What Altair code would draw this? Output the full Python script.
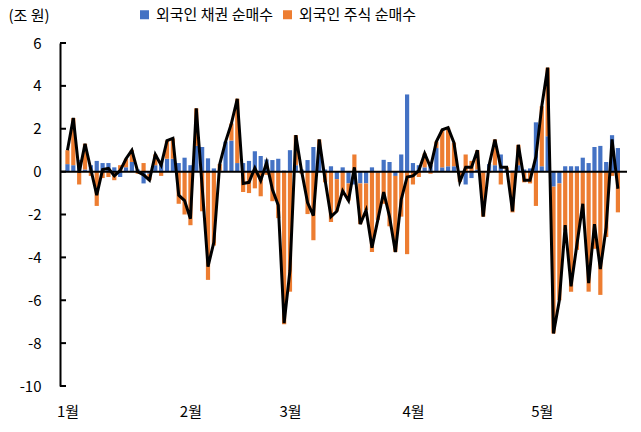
import altair as alt
import pandas as pd

# Daily foreign net purchases (trillion won)
bond = [0.35, 0.3, 0.55, 0.1, 0.3, 0.5, 0.4, 0.4, 0.2, -0.25,
        0.2, 0.45, 0.1, -0.55, -0.1, 0.3, 0.5, 0.6, 0.6, 0.4,
        0.65, 0.3, 1.2, 1.15, 0.62, 0.15, 0.05, 1.4, 1.45, 0.4,
        0.4, 0.5, 0.95, 0.73, 0.57, 0.54, 0.6, 0.05, 1.0, 0.3,
        0.1, 0.54, 1.15, 0.9, 0.1, 0.25, -0.35, 0.2, -0.55, -0.6,
        -0.55, -0.55, 0.2, -0.05, 0.55, 0.45, -0.2, 0.8, 3.6, 0.4,
        0.3, 0.2, 0.3, 1.1, 0.2, 0.25, 0.25, 0.0, -0.6, -0.3,
        0.1, 0.0, 0.35, 0.3, 0.8, 0.1, 0.05, 0.3, 0.1, 0.15,
        2.3, 0.25, 1.65, -0.7, -0.55, 0.25, 0.25, 0.25, 0.65, 0.4,
        1.15, 1.2, 0.45, 1.7, 1.1]
stock = [0.65, 2.2, -0.6, 1.2, -0.2, -1.6, -0.3, -0.25, -0.4, 0.3,
         0.4, 0.55, -0.1, 0.4, -0.3, 0.5, -0.2, 0.85, 0.95, -1.5,
         -2.0, -2.5, 1.75, -1.85, -5.05, -3.45, 0.3, 0.0, 0.8, 3.0,
         -0.95, -1.0, -0.78, -1.15, -0.15, -1.38, -2.17, -7.12, -5.6, 1.4,
         -0.1, -1.98, -3.2, 0.6, -0.5, -2.35, -1.5, -1.1, -0.8, 0.8,
         -1.9, -1.25, -3.75, -2.2, -1.5, -2.55, -3.55, -2.1, -3.85, -0.6,
         -0.25, 0.65, -0.1, 0.3, 1.75, 1.8, 1.1, -0.47, 0.8, 0.5,
         0.9, -2.1, -0.05, 1.2, -0.6, 0.1, -1.9, 0.95, -0.5, -0.55,
         -1.6, 2.8, 3.2, -6.85, -5.45, -2.75, -5.6, -3.65, -2.15, -5.6,
         -3.6, -5.75, -3.05, -0.2, -1.9]

series_names = ["외국인 채권 순매수", "외국인 주식 순매수"]
colors = ["#4472C4", "#ED7D31"]
month_labels = ["1월", "2월", "3월", "4월", "5월"]
month_pos = [0, 21, 38, 59, 81]
y_ticks = [-10, -8, -6, -4, -2, 0, 2, 4, 6]

n = len(bond)
idx = list(range(n))
long_df = pd.DataFrame({
    "idx": idx * 2,
    "value": bond + stock,
    "series": [series_names[0]] * n + [series_names[1]] * n,
    "ord": [0] * n + [1] * n,
})
total_df = pd.DataFrame({"idx": idx, "total": [round(b + s, 3) for b, s in zip(bond, stock)]})
zero_df = pd.DataFrame({"z": [0]})
tick_df = pd.DataFrame({"t": y_ticks})

FONT = "Noto Sans CJK KR"
YTITLE = "(조 원)"
xscale = alt.Scale(domain=[-0.42, 94.7], nice=False, zero=False)
yscale = alt.Scale(domain=[-10, 6], nice=False)

label_expr = ""
for p, l in zip(month_pos, month_labels):
    label_expr += f"datum.value == {p} ? '{l}' : "
label_expr += "''"

bars = alt.Chart(long_df).mark_bar(size=4.2).encode(
    x=alt.X("idx:Q", scale=xscale, title=None,
            axis=alt.Axis(values=month_pos, labelExpr=label_expr, domain=False, ticks=False,
                          grid=False, labelPadding=18, labelFontSize=15, labelFont=FONT,
                          labelColor="black")),
    y=alt.Y("value:Q", stack="zero", scale=yscale, title=YTITLE,
            axis=alt.Axis(values=y_ticks, labelExpr="'' + datum.value", grid=False, ticks=False,
                          domainColor="black", domainWidth=2, labelPadding=19,
                          labelFontSize=15, labelFont=FONT, labelColor="black",
                          titleAngle=0, titleX=-52, titleY=-28, titleAlign="left",
                          titleBaseline="middle", titleFont=FONT, titleFontSize=15,
                          titleFontWeight="normal", titleColor="black")),
    color=alt.Color("series:N", scale=alt.Scale(domain=series_names, range=colors),
                    legend=alt.Legend(orient="none", legendX=77, legendY=-36,
                                      direction="horizontal", title=None, symbolType="square",
                                      symbolSize=81, labelFontSize=15, labelFont=FONT,
                                      labelColor="black", columnPadding=6, labelOffset=4,
                                      symbolStrokeWidth=0)),
    order=alt.Order("ord:Q"),
)

zero_line = alt.Chart(zero_df).mark_rule(color="black", strokeWidth=2).encode(
    y=alt.Y("z:Q", scale=yscale, title=YTITLE),
)

tick_marks = alt.Chart(tick_df).mark_rule(color="black", strokeWidth=2).encode(
    y=alt.Y("t:Q", scale=yscale, title=YTITLE),
    x=alt.value(0),
    x2=alt.value(6),
)

total_line = alt.Chart(total_df).mark_line(color="black", strokeWidth=3).encode(
    x=alt.X("idx:Q", scale=xscale, title=None),
    y=alt.Y("total:Q", scale=yscale, title=YTITLE),
)

chart = alt.layer(bars, zero_line, tick_marks, total_line).properties(
    width=567,
    height=343,
    autosize=alt.AutoSizeParams(type="none"),
    padding={"left": 60, "top": 43, "right": 14, "bottom": 46},
).configure_view(stroke=None)

chart.save("out.html", embed_options={"renderer": "svg", "actions": False})
